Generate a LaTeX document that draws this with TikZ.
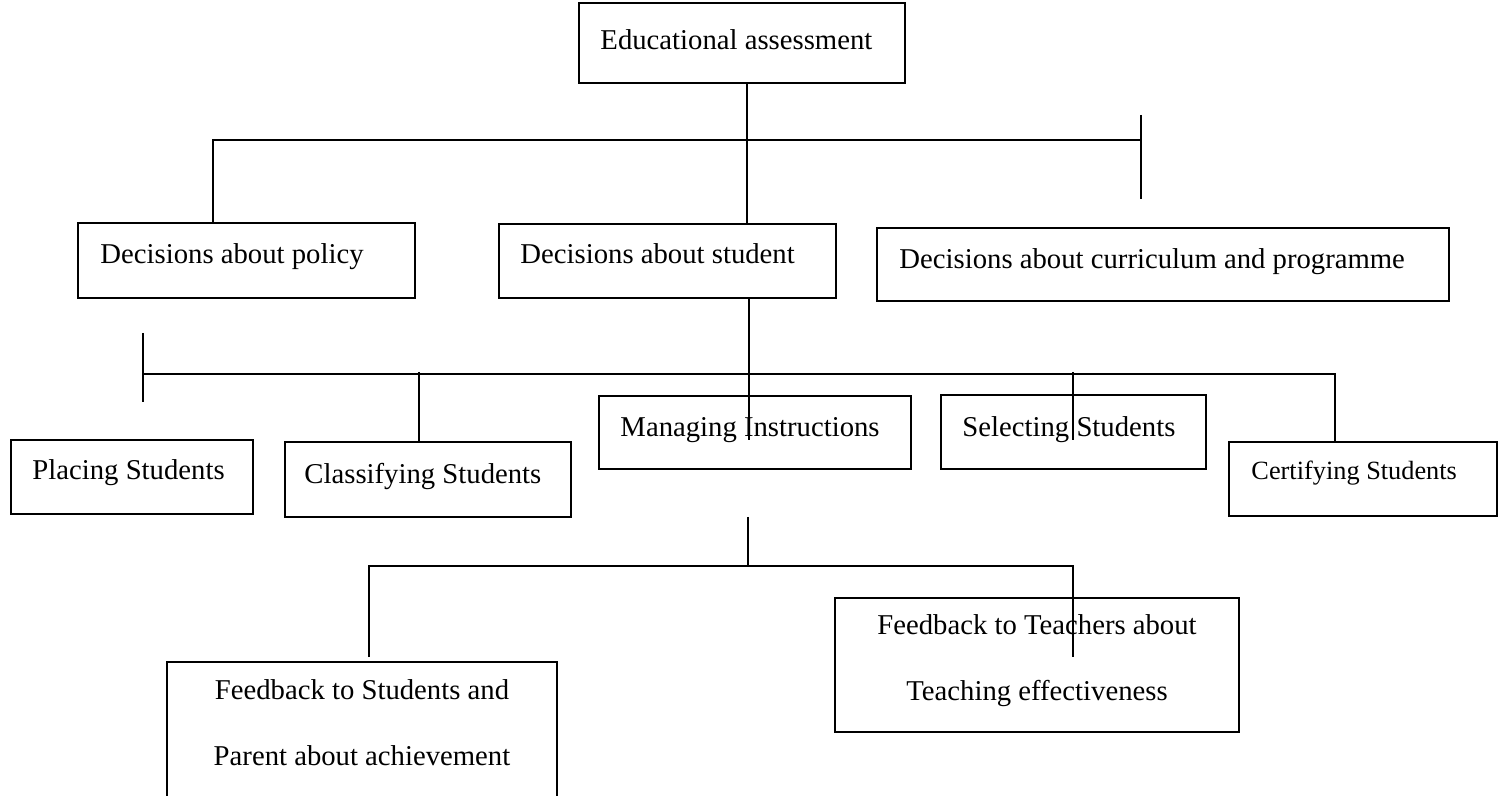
\documentclass[tikz,border=0pt]{standalone}
\usepackage{fontspec}
\setmainfont{Liberation Serif}
\usetikzlibrary{fit}

\tikzset{
  frame/.style={draw, line width=0.85pt, inner sep=0pt},
  lbl/.style={inner sep=0pt, anchor=west, text height=0.7em, text depth=0.2em,
              font=\fontsize{12pt}{27.6pt}\selectfont},
  lblsmall/.style={lbl, font=\fontsize{11pt}{13pt}\selectfont},
  lbltwo/.style={inner sep=0pt, align=center, anchor=north,
                 font=\fontsize{12pt}{27.6pt}\selectfont},
  wire/.style={line width=0.85pt},
}

\begin{document}
\begin{tikzpicture}[x=0.418pt, y=-0.418pt]
  \useasboundingbox (0,0) rectangle (1501,796);
  \clip (0,0) rectangle (1501,796);

  % ---- boxes ----
  \node[frame, fit={(579,3) (905,83)}]      (edu)  {};
  \node[frame, fit={(78,223) (415,298)}]    (pol)  {};
  \node[frame, fit={(499,224) (836,298)}]   (stu)  {};
  \node[frame, fit={(877,228) (1449,301)}]  (cur)  {};
  \node[frame, fit={(11,440) (253,514)}]    (plc)  {};
  \node[frame, fit={(285,442) (571,517)}]   (cls)  {};
  \node[frame, fit={(599,396) (911,469)}]   (man)  {};
  \node[frame, fit={(941,395) (1206,469)}]  (sel)  {};
  \node[frame, fit={(1229,442) (1497,516)}] (cert) {};
  \node[frame, fit={(167,662) (557,830)}]   (fbs)  {};
  \node[frame, fit={(835,598) (1239,732)}]  (fbt)  {};

  % ---- texts ----
  \node[lbl] (edu-t)  at (600,44)  {Educational assessment};
  \node[lbl] (pol-t)  at (100,258) {Decisions about policy};
  \node[lbl] (stu-t)  at (520,258) {Decisions about student};
  \node[lbl] (cur-t)  at (899,263) {Decisions about curriculum and programme};
  \node[lbl] (plc-t)  at (32,474)  {Placing Students};
  \node[lbl] (cls-t)  at (304,478) {Classifying Students};
  \node[lbl] (man-t)  at (620,431) {Managing Instructions};
  \node[lbl] (sel-t)  at (962,431) {Selecting Students};
  \node[lblsmall] (cert-t) at (1251,474) {Certifying Students};
  \node[lbltwo] (fbs-t) at (362,679) {Feedback to Students and\\Parent about achievement};
  \node[lbltwo] (fbt-t) at (1037,614) {Feedback to Teachers about\\Teaching effectiveness};

  % ---- connector points ----
  \coordinate (j1)  at (747,140);
  \coordinate (j1L) at (213,140);
  \coordinate (j1R) at (1141,140);
  \coordinate (t1a) at (1141,115);
  \coordinate (t1b) at (1141,199);
  \coordinate (j2)  at (749,374);
  \coordinate (j2L) at (143,374);
  \coordinate (j2R) at (1335,374);
  \coordinate (t2a) at (143,333);
  \coordinate (t2b) at (143,402);
  \coordinate (m1)  at (749,440);
  \coordinate (k1)  at (419,372);
  \coordinate (k3a) at (1073,372);
  \coordinate (k3b) at (1073,440);
  \coordinate (j3a) at (748,517);
  \coordinate (j3)  at (748,566);
  \coordinate (j3R) at (1073,566);
  \coordinate (s1)  at (369,657);
  \coordinate (s2)  at (1073,657);

  % ---- connectors ----
  \draw[wire] (edu.south -| j1) -- (stu.north -| j1);
  \draw[wire] (pol.north -| j1L) |- (j1R);
  \draw[wire] (t1a) -- (t1b);

  \draw[wire] (stu.south -| j2) -- (m1);
  \draw[wire] (t2a) -- (t2b);
  \draw[wire] (j2L) -- (j2R) -- (cert.north -| j2R);
  \draw[wire] (k1) -- (cls.north -| k1);
  \draw[wire] (k3a) -- (k3b);

  \draw[wire] (j3a) -- (j3);
  \draw[wire] (s1) |- (j3R) -- (s2);
\end{tikzpicture}
\end{document}
